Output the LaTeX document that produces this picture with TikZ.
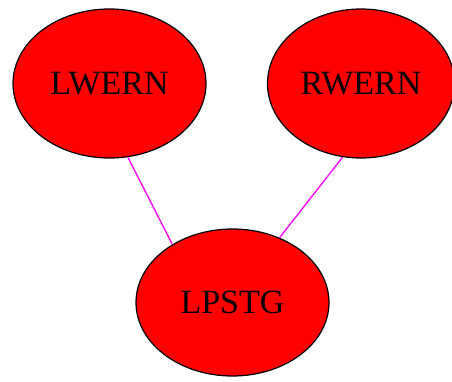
\documentclass[tikz,border=0pt]{standalone}
\usepackage{fontspec}
\setmainfont{Liberation Serif}
\usetikzlibrary{shapes.geometric}
\begin{document}
\begin{tikzpicture}[x=1pt,y=-1pt,
  gnode/.style={ellipse,draw=black,line width=1.2pt,fill=red,inner sep=0pt,
    minimum width=193pt,minimum height=149pt,font=\fontsize{34}{40}\selectfont},
  gedge/.style={draw={rgb,255:red,255;green,0;blue,255},line width=1.3pt}]
\useasboundingbox (0,0) rectangle (452,382);
\node[gnode] (LWERN) at (109.5,83.5) {LWERN};
\node[gnode,minimum width=187pt] (RWERN) at (361,83.5) {RWERN};
\node[gnode,minimum height=147pt] (LPSTG) at (232.5,302.5) {LPSTG};
\draw[gedge] (LWERN.-76.6) -- (LPSTG.136.4);
\draw[gedge] (RWERN.256.8) -- (LPSTG.54.5);
\end{tikzpicture}
\end{document}
